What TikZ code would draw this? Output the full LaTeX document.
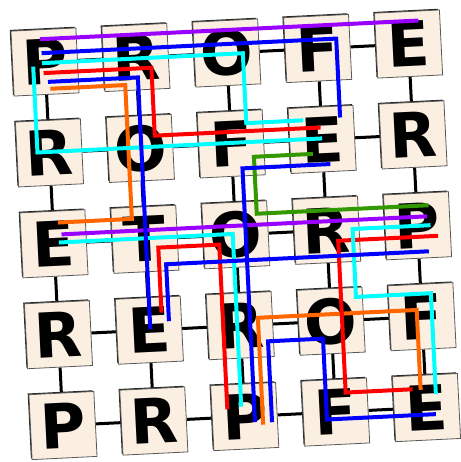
\documentclass[tikz,border=0pt]{standalone}
\usepackage{fontspec}
\newfontfamily\tilefont{DejaVu Sans}
\usetikzlibrary{shadows,backgrounds}
\definecolor{tilefill}{RGB}{251,239,225}
\definecolor{pviolet}{RGB}{153,0,255}
\definecolor{porange}{RGB}{255,102,0}
\definecolor{pgreen}{RGB}{51,153,0}
\definecolor{pcyan}{RGB}{0,255,255}
\definecolor{pblue}{RGB}{0,0,255}
\definecolor{pred}{RGB}{255,0,0}
\begin{document}
\begin{tikzpicture}[x=1pt,y=1pt,
  tile/.style={draw=black!65, line width=0.8pt, fill=tilefill, minimum size=65pt,
    inner sep=0pt,
    general shadow={fill=black!85, shadow xshift=-1.2pt, shadow yshift=1.2pt}},
  letter/.style={inner sep=0pt, font=\tilefont\bfseries\fontsize{62}{62}\selectfont},
  gridline/.style={line width=3pt, black},
  route/.style={line width=4pt, line join=miter}
]
\useasboundingbox (0,0) rectangle (460,-462);
\begin{scope}[shift={(45,-62)}, rotate=2.83, transform shape]
  \foreach \l [count=\i from 0] in {P,R,O,F,E,R,O,F,E,R,E,T,O,R,P,R,E,R,O,F,P,R,P,F,E} {
    \pgfmathtruncatemacro\rr{\i/5}
    \pgfmathtruncatemacro\cc{mod(\i,5)}
    \node[tile] (t\rr\cc) at (91*\cc, -91*\rr) {};
    \node[letter] (l\rr\cc) at (t\rr\cc.center) {\l};
  }
  \begin{pgfonlayer}{background}
    \foreach \r in {0,...,4} {
      \foreach \c [evaluate=\c as \cn using int(\c+1)] in {0,...,3} {
        \draw[gridline] (t\r\c) -- (t\r\cn);
        \draw[gridline] (t\c\r) -- (t\cn\r);
      }
    }
  \end{pgfonlayer}
  % orange
  \draw[route, porange] (4,-27) -- (79,-27) -- (79,-161) -- (5,-161);
  \draw[route, porange] (359,-346) -- (359,-266) -- (200,-266) -- (200,-373);
  % red
  \draw[route, pred] (-2,-11) -- (106,-11) -- (106,-79) -- (272,-79);
  \draw[route, pred] (104,-256) -- (104,-191) -- (165,-191) -- (165,-356);
  \draw[route, pred] (384,-193) -- (284,-193) -- (284,-345) -- (351,-345);
  % green
  \draw[route, pgreen] (263,-105) -- (204,-105) -- (204,-162) -- (376,-162);
  % purple
  \draw[route, pviolet] (-4,23) -- (375,23);
  \draw[route, pviolet] (8,-173) -- (374,-173);
  % cyan
  \draw[route, pcyan] (-3,-1) -- (198,-1) -- (198,-71) -- (255,-71);
  \draw[route, pcyan] (-12,-4) -- (-12,-90) -- (273,-90);
  \draw[route, pcyan] (5,-181) -- (179,-181) -- (179,-354);
  \draw[route, pcyan] (377,-182) -- (299,-182) -- (299,-250) -- (374,-250) -- (374,-351);
  % blue
  \draw[route, pblue] (-3,9) -- (292,9) -- (292,-70);
  \draw[route, pblue] (2,-20) -- (92,-20) -- (92,-272);
  \draw[route, pblue] (280,-116) -- (192,-116) -- (192,-370);
  \draw[route, pblue] (374,-208) -- (111,-208) -- (111,-265);
  \draw[route, pblue] (373,-371) -- (264,-371) -- (264,-290) -- (209,-290) -- (209,-371);
\end{scope}
\end{tikzpicture}
\end{document}
